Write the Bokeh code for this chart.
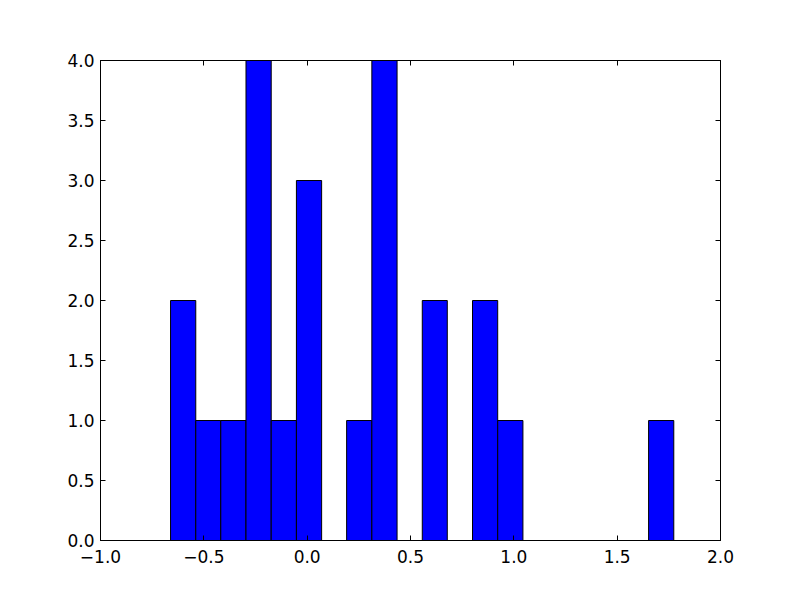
from bokeh.plotting import figure
from bokeh.models import Range1d, LinearAxis, FixedTicker, CustomJSTickFormatter
from bokeh.embed import file_html
from bokeh.resources import INLINE

# histogram bin edges and counts
bin_edges = [-0.661, -0.539, -0.418, -0.296, -0.174, -0.052, 0.070, 0.191,
             0.313, 0.435, 0.557, 0.678, 0.800, 0.922, 1.044, 1.165,
             1.287, 1.409, 1.531, 1.652, 1.774]
counts = [2, 1, 1, 4, 1, 3, 0, 1, 4, 0, 2, 0, 2, 1, 0, 0, 0, 0, 0, 1]

x_ticks = [-1.0, -0.5, 0.0, 0.5, 1.0, 1.5, 2.0]
y_ticks = [0.0, 0.5, 1.0, 1.5, 2.0, 2.5, 3.0, 3.5, 4.0]

FONT = "DejaVu Sans"
FSIZE = "17px"

p = figure(frame_width=620, frame_height=480,
           min_border_left=100, min_border_right=64,
           min_border_top=60, min_border_bottom=44,
           x_range=Range1d(-1, 2), y_range=Range1d(0, 4),
           output_backend="svg", toolbar_location=None,
           x_axis_location=None, y_axis_location=None)
p.xgrid.visible = False
p.ygrid.visible = False
p.outline_line_color = "black"
p.outline_line_width = 1
p.background_fill_color = "white"
p.border_fill_color = "white"

p.quad(left=bin_edges[:-1], right=bin_edges[1:], top=counts, bottom=0,
       fill_color="#0000ff", line_color="black", line_width=1)

fmt = CustomJSTickFormatter(code="return tick.toFixed(1).replace('-', '\u2212');")


def make_axis(ticks, labels, standoff):
    ax = LinearAxis(ticker=FixedTicker(ticks=ticks), formatter=fmt)
    ax.major_tick_in = 5
    ax.major_tick_out = 0
    ax.minor_tick_in = 0
    ax.minor_tick_out = 0
    ax.axis_line_color = "black"
    ax.major_tick_line_color = "black"
    ax.major_label_text_font = FONT
    ax.major_label_text_font_size = FSIZE
    ax.major_label_text_color = "black" if labels else None
    ax.major_label_standoff = standoff
    return ax


p.add_layout(make_axis(x_ticks, True, 9), "below")
p.add_layout(make_axis(y_ticks, True, 6), "left")
p.add_layout(make_axis(x_ticks, False, 6), "above")
p.add_layout(make_axis(y_ticks, False, 6), "right")

open("out.html", "w").write(file_html(p, INLINE))
